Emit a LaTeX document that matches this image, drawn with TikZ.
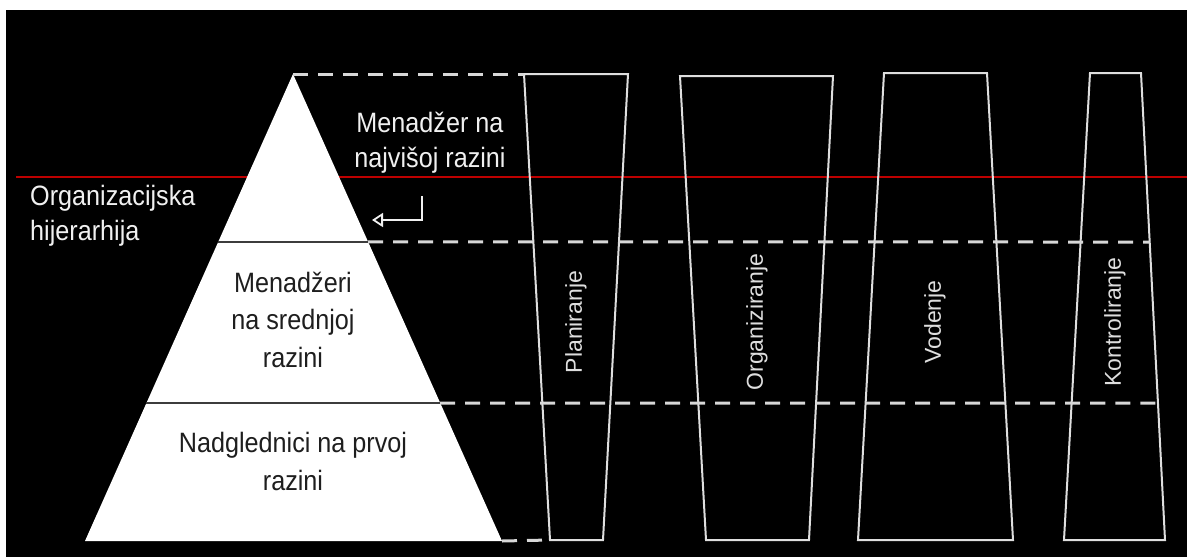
\documentclass[tikz,border=0pt]{standalone}
\usepackage{fontspec}
\setmainfont{Liberation Sans}
\newfontfamily\narrowfont{Liberation Sans}[FakeStretch=0.9]
\usetikzlibrary{arrows.meta,calc}
\definecolor{trapgray}{RGB}{222,222,222}
\definecolor{dashgray}{RGB}{215,215,215}
\definecolor{redline}{RGB}{190,0,0}
\definecolor{pyrtext}{RGB}{30,30,30}
\definecolor{labelwhite}{RGB}{240,240,240}
\definecolor{divgray}{RGB}{60,60,60}
\begin{document}
\begin{tikzpicture}[x=1pt,y=-1pt,
  trap/.style={draw=trapgray, line width=2pt, line join=miter},
  dashln/.style={draw=dashgray, line width=3pt, dash pattern=on 15pt off 10pt},
  divln/.style={draw=divgray, line width=1.5pt},
  redln/.style={draw=redline, line width=1.6pt},
  arrowln/.style={draw=labelwhite, line width=1.8pt, -{Triangle[open,length=11pt,width=14pt]}},
  lbl/.style={font=\narrowfont\fontsize{28}{35}\selectfont, text=labelwhite, inner sep=0pt},
  pyrlbl/.style={font=\narrowfont\fontsize{28}{37.5}\selectfont, text=pyrtext, inner sep=0pt, align=center},
  vlbl/.style={font=\fontsize{23}{28}\selectfont, text=trapgray, rotate=90, inner sep=0pt}]
% background
\fill[white] (0,0) rectangle (1187,557);
\fill[black] (6,10) rectangle (1187,557);
\useasboundingbox (0,0) rectangle (1187,557);
% red line
\coordinate (rl) at (16,177);
\coordinate (rr) at (1187,177);
\draw[redln] (rl) -- (rr);
% pyramid
\coordinate (apex) at (293,74);
\coordinate (pl) at (85,541);
\coordinate (pr) at (502,541);
\fill[white] (apex) -- (pr) -- (pl) -- cycle;
\coordinate (d1l) at ($(apex)!0.3597!(pl)$);
\coordinate (d1r) at ($(apex)!0.3597!(pr)$);
\coordinate (d2l) at ($(apex)!0.7045!(pl)$);
\coordinate (d2r) at ($(apex)!0.7045!(pr)$);
\draw[divln] (d1l) -- (d1r);
\draw[divln] (d2l) -- (d2r);
% trapezoids
\coordinate (t1a) at (524,74);  \coordinate (t1b) at (628,74);  \coordinate (t1c) at (603,540);  \coordinate (t1d) at (550,540);
\coordinate (t2a) at (680,76);  \coordinate (t2b) at (833,76);  \coordinate (t2c) at (809,540);  \coordinate (t2d) at (706,540);
\coordinate (t3a) at (884,73);  \coordinate (t3b) at (987,73);  \coordinate (t3c) at (1013,540); \coordinate (t3d) at (858,540);
\coordinate (t4a) at (1090,73); \coordinate (t4b) at (1141,73); \coordinate (t4c) at (1165,540); \coordinate (t4d) at (1064,540);
\draw[trap] (t1a) -- (t1b) -- (t1c) -- (t1d) -- cycle;
\draw[trap] (t2a) -- (t2b) -- (t2c) -- (t2d) -- cycle;
\draw[trap] (t3a) -- (t3b) -- (t3c) -- (t3d) -- cycle;
\draw[trap] (t4a) -- (t4b) -- (t4c) -- (t4d) -- cycle;
% dashed level lines
\coordinate (m1end) at (1149,242);
\coordinate (m2end) at (1158,403);
\draw[dashln] (apex) -- (t1a);
\draw[dashln] (d1r) -- (m1end);
\draw[dashln] (d2r) -- (m2end);
\draw[dashln] (pr) -- (t1d);
% arrow
\coordinate (a1) at (422,196);
\coordinate (a2) at (422,220);
\coordinate (a3) at (372,220);
\draw[arrowln] (a1) -- (a2) -- (a3);
% labels (anchor base = baseline of last line)
\node[lbl, align=center, anchor=base] (top) at (430,167) {Menadžer na\\najvišoj razini};
\node[lbl, align=left, anchor=base west] (org) at (30,240) {Organizacijska\\hijerarhija};
\node[pyrlbl, anchor=base] (mid) at (293,367) {Menadžeri\\na srednjoj\\razini};
\node[pyrlbl, anchor=base] (low) at (293,490) {Nadglednici na prvoj\\razini};
% vertical labels
\node[vlbl] (plan) at (576,322) {Planiranje};
\node[vlbl] (orgz) at (757,322) {Organiziranje};
\node[vlbl] (vod) at (935,322) {Vodenje};
\node[vlbl] (kon) at (1115,322) {Kontroliranje};
\end{tikzpicture}
\end{document}
